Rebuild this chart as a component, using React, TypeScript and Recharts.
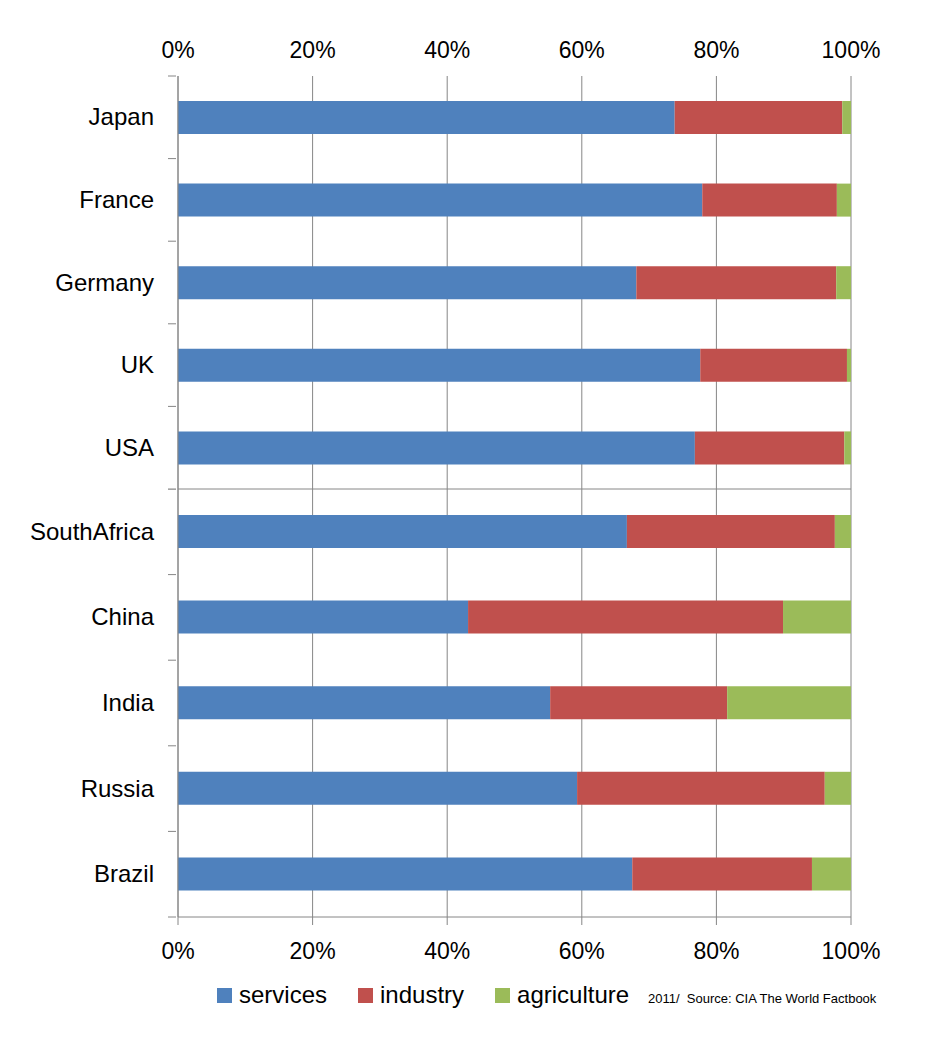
import React from "react";
import { Bar, BarChart, CartesianGrid, XAxis, YAxis } from "recharts";

const BLUE = "#4F81BD";
const RED = "#C0504D";
const GREEN = "#9BBB59";
const GRID = "#868686";
const FONT = "'Liberation Sans', Arial, sans-serif";

const TOP_COUNTRIES = ["Japan", "France", "Germany", "UK", "USA"];
const TOP_SERVICES = [73.8, 77.9, 68.1, 77.6, 76.8];
const TOP_INDUSTRY = [24.9, 20.0, 29.7, 21.8, 22.2];
const TOP_AGRICULTURE = [1.3, 2.1, 2.2, 0.6, 1.0];

const BOTTOM_COUNTRIES = ["SouthAfrica", "China", "India", "Russia", "Brazil"];
const BOTTOM_SERVICES = [66.7, 43.1, 55.3, 59.3, 67.5];
const BOTTOM_INDUSTRY = [30.9, 46.8, 26.3, 36.8, 26.7];
const BOTTOM_AGRICULTURE = [2.4, 10.1, 18.4, 3.9, 5.8];

const PCT_TICKS = [0, 20, 40, 60, 80, 100];
const SERIES = [
  { key: "services", color: BLUE },
  { key: "industry", color: RED },
  { key: "agriculture", color: GREEN },
];
const SOURCE = "2011/  Source: CIA The World Factbook";

const build = (names: string[], s: number[], i: number[], a: number[]) =>
  names.map((country, k) => ({ country, services: s[k], industry: i[k], agriculture: a[k] }));

const topData = build(TOP_COUNTRIES, TOP_SERVICES, TOP_INDUSTRY, TOP_AGRICULTURE);
const bottomData = build(BOTTOM_COUNTRIES, BOTTOM_SERVICES, BOTTOM_INDUSTRY, BOTTOM_AGRICULTURE);

// category label plus tick marks on the band boundaries (Excel style)
function CatTick(props: any) {
  const { x, y, payload, index, band, count } = props;
  return (
    <g>
      <line x1={x - 8} x2={x} y1={y - band / 2} y2={y - band / 2} stroke={GRID} />
      {index === count - 1 && <line x1={x - 8} x2={x} y1={y + band / 2} y2={y + band / 2} stroke={GRID} />}
      <text x={154} y={y} dy={8} textAnchor="end" fontSize={24} fill="#000" fontFamily={FONT}>
        {payload.value}
      </text>
    </g>
  );
}

const pct = (v: number) => `${v}%`;
const tickStyle = { fontSize: 23, fill: "#000", fontFamily: FONT };

function Bars() {
  return SERIES.map((s) => (
    <Bar key={s.key} dataKey={s.key} stackId="a" fill={s.color} barSize={33} isAnimationActive={false} />
  ));
}

export default function App() {
  const topBand = (489 - 76) / TOP_COUNTRIES.length;
  const bottomBand = (917 - 489) / BOTTOM_COUNTRIES.length;
  return (
    <div style={{ position: "absolute", left: 0, top: 0, width: 926, height: 1038, background: "#fff", fontFamily: FONT }}>
      <div style={{ position: "absolute", left: 0, top: 0 }}>
        <BarChart width={926} height={490} data={topData} layout="vertical" margin={{ top: 0, right: 75, bottom: 0, left: 0 }}>
          <CartesianGrid horizontal={false} stroke={GRID} />
          <XAxis
            type="number"
            orientation="top"
            domain={[0, 100]}
            ticks={PCT_TICKS}
            tickFormatter={pct}
            axisLine={false}
            tickLine={false}
            tickSize={0}
            tickMargin={18}
            height={76}
            tick={tickStyle}
            interval={0}
          />
          <XAxis
            xAxisId="line"
            type="number"
            orientation="bottom"
            domain={[0, 100]}
            ticks={PCT_TICKS}
            tick={false}
            tickLine={false}
            axisLine={{ stroke: GRID }}
            height={1}
          />
          <YAxis
            type="category"
            dataKey="country"
            width={178}
            axisLine={{ stroke: GRID }}
            tickLine={false}
            tickSize={0}
            tick={(p: any) => <CatTick {...p} band={topBand} count={TOP_COUNTRIES.length} />}
          />
          {Bars()}
        </BarChart>
      </div>
      <div style={{ position: "absolute", left: 0, top: 489 }}>
        <BarChart width={926} height={488} data={bottomData} layout="vertical" margin={{ top: 0, right: 75, bottom: 0, left: 0 }}>
          <CartesianGrid horizontal={false} stroke={GRID} />
          <XAxis
            type="number"
            orientation="bottom"
            domain={[0, 100]}
            ticks={PCT_TICKS}
            tickFormatter={pct}
            axisLine={{ stroke: GRID }}
            tickLine={{ stroke: GRID }}
            tickSize={8}
            tickMargin={18}
            height={60}
            tick={tickStyle}
            interval={0}
          />
          <YAxis
            type="category"
            dataKey="country"
            width={178}
            axisLine={{ stroke: GRID }}
            tickLine={false}
            tickSize={0}
            tick={(p: any) => <CatTick {...p} band={bottomBand} count={BOTTOM_COUNTRIES.length} />}
          />
          {Bars()}
        </BarChart>
      </div>
      <div style={{ position: "absolute", left: 217, top: 981, display: "flex", alignItems: "center", fontSize: 24, color: "#000" }}>
        {SERIES.map((s) => (
          <div key={s.key} style={{ display: "flex", alignItems: "center", marginRight: 31 }}>
            <span style={{ width: 15, height: 15, background: s.color, display: "inline-block", marginRight: 7 }} />
            <span>{s.key}</span>
          </div>
        ))}
      </div>
      <div style={{ position: "absolute", left: 648, top: 991, fontSize: 13, color: "#000", whiteSpace: "pre" }}>{SOURCE}</div>
    </div>
  );
}
